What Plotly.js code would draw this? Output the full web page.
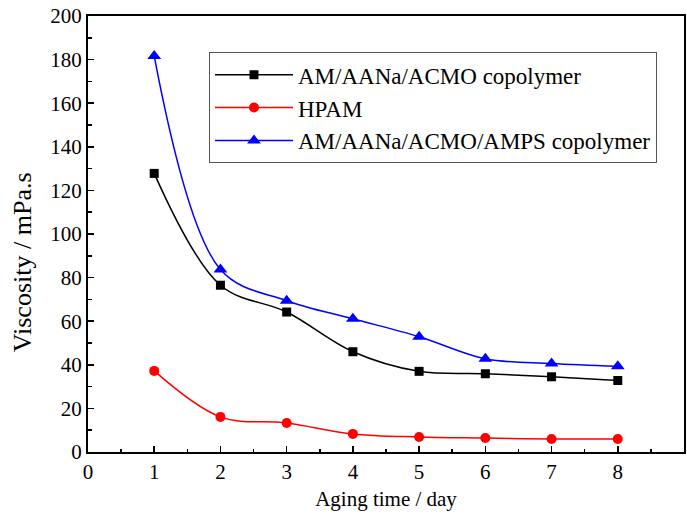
<!DOCTYPE html>
<html>
<head>
<meta charset="utf-8">
<script src="https://cdn.plot.ly/plotly-3.0.1.min.js"></script>
<style>html,body{margin:0;padding:0;background:#fff;}#chart{width:687px;height:517px;}</style>
</head>
<body>
<div id="chart"></div>
<script>
const days = [1, 2, 3, 4, 5, 6, 7, 8];
const copolymerAM = [127.8, 76.5, 64.2, 46.0, 37.0, 35.9, 34.5, 32.8];
const hpam = [37.2, 16.1, 13.3, 8.3, 6.9, 6.4, 6.0, 6.0];
const copolymerAMPS = [181.6, 83.7, 69.4, 61.1, 52.9, 42.8, 40.6, 39.3];
const seriesNames = ['AM/AANa/ACMO copolymer', 'HPAM', 'AM/AANa/ACMO/AMPS copolymer'];
const xTitle = 'Aging time / day';
const yTitle = 'Viscosity / mPa.s';

const font = '"Liberation Serif", "Times New Roman", serif';
const traces = [
  {x: days, y: copolymerAM, name: seriesNames[0], mode: 'lines+markers',
   line: {color: '#000000', width: 1.5, shape: 'spline', smoothing: 1},
   marker: {symbol: 'square', size: 9, color: '#000000'}},
  {x: days, y: hpam, name: seriesNames[1], mode: 'lines+markers',
   line: {color: '#ff0000', width: 1.5, shape: 'spline', smoothing: 1},
   marker: {symbol: 'circle', size: 10, color: '#ff0000'}},
  {x: days, y: copolymerAMPS, name: seriesNames[2], mode: 'lines+markers',
   line: {color: '#0000ff', width: 1.5, shape: 'spline', smoothing: 1},
   marker: {symbol: 'triangle-up', size: 12, color: '#0000ff'}}
];
const axisCommon = {
  showline: true, linecolor: '#000', linewidth: 2, mirror: true,
  ticks: 'inside', ticklen: 6, tickwidth: 1.5, tickcolor: '#000',
  showgrid: false, zeroline: false,
  tickfont: {family: font, size: 21, color: '#000'}
};
const layout = {
  width: 687, height: 517,
  margin: {l: 88, r: 3, t: 16, b: 65},
  paper_bgcolor: '#fff', plot_bgcolor: '#fff',
  font: {family: font, color: '#000'},
  showlegend: true,
  legend: {x: 0.203, y: 0.917, xanchor: 'left', yanchor: 'top',
    bordercolor: '#555', borderwidth: 1, bgcolor: '#fff', itemwidth: 78,
    font: {family: font, size: 23, color: '#000'}, tracegroupgap: 0},
  xaxis: Object.assign({}, axisCommon, {
    range: [0, 9], dtick: 1, tick0: 0,
    minor: {dtick: 0.5, ticks: 'inside', ticklen: 3.5, tickwidth: 1.5, tickcolor: '#000', showgrid: false},
    title: {text: xTitle, font: {family: font, size: 21, color: '#000'}, standoff: 8}
  }),
  yaxis: Object.assign({}, axisCommon, {
    range: [0, 200], dtick: 20, tick0: 0,
    minor: {dtick: 10, ticks: 'inside', ticklen: 3.5, tickwidth: 1.5, tickcolor: '#000', showgrid: false}
  }),
  annotations: [{
    text: yTitle, xref: 'paper', yref: 'paper', x: -0.111, y: 0.435,
    xanchor: 'center', yanchor: 'middle', textangle: -90, showarrow: false,
    font: {family: font, size: 26, color: '#000'}
  }]
};
Plotly.newPlot('chart', traces, layout, {displayModeBar: false, staticPlot: true});
</script>
</body>
</html>
